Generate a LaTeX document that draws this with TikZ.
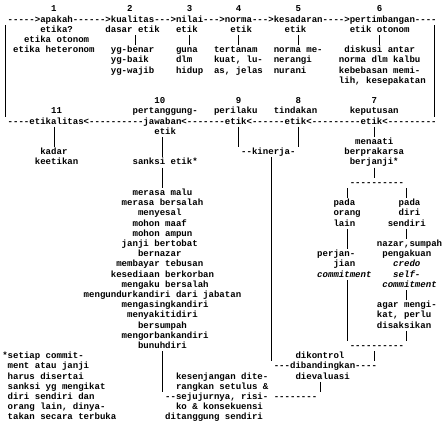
\documentclass[tikz,border=0pt]{standalone}
\usepackage{fontspec}
\setmonofont{Liberation Mono}
\newcommand{\cw}{5.43}
\tikzset{
  txt/.style={anchor=base west, inner sep=0pt, outer sep=0pt,
    font=\ttfamily\bfseries\fontsize{9.05}{10.2}\selectfont},
  bar/.style={line width=0.7pt, line cap=butt},
}
% \T{row}{col}{text}
\newcommand{\T}[3]{\node[txt] (t#1c#2) at ({2.28+\cw*#2},{-(11.8+10.2*#1)}) {#3};}
\newcommand{\TI}[3]{\node[txt] (t#1c#2) at ({2.28+\cw*#2},{-(11.8+10.2*#1)}) {\itshape #3};}
% \V{col}{from row}{to row}
\newcommand{\V}[3]{\draw[bar] ({5+\cw*#1},{-(9.5+10.2*#2-5.1)}) -- ({5+\cw*#1},{-(9.5+10.2*#3+5.1)});}
\begin{document}
\begin{tikzpicture}[x=1pt,y=1pt]
\useasboundingbox (0,0) rectangle (442,-429);
\fill[white] (0,0) rectangle (442,-429);
% row 0
\T{0}{9}{1}\T{0}{23}{2}\T{0}{34}{3}\T{0}{43}{4}\T{0}{54}{5}\T{0}{69}{6}
\T{1}{1}{----->apakah------>kualitas--->nilai--->norma--->kesadaran---->pertimbangan----}
\T{2}{7}{etika?}\T{2}{19}{dasar etik}\T{2}{32}{etik}\T{2}{42}{etik}\T{2}{52}{etik}\T{2}{64}{etik otonom}
\T{3}{4}{etika otonom}
\T{4}{2}{etika heteronom}\T{4}{20}{yg-benar}\T{4}{32}{guna}\T{4}{39}{tertanam}\T{4}{50}{norma me-}\T{4}{63}{diskusi antar}
\T{5}{20}{yg-baik}\T{5}{32}{dlm}\T{5}{39}{kuat, lu-}\T{5}{50}{nerangi}\T{5}{62}{norma dlm kalbu}
\T{6}{20}{yg-wajib}\T{6}{32}{hidup}\T{6}{39}{as, jelas}\T{6}{50}{nurani}\T{6}{62}{kebebasan memi-}
\T{7}{62}{lih, kesepakatan}
\T{9}{28}{10}\T{9}{43}{9}\T{9}{54}{8}\T{9}{68}{7}
\T{10}{9}{11}\T{10}{24}{pertanggung-}\T{10}{39}{perilaku}\T{10}{50}{tindakan}\T{10}{64}{keputusan}
\T{11}{1}{----etikalitas<----------jawaban<-------etik<------etik<---------etik<---------}
\T{12}{28}{etik}
\T{13}{65}{menaati}
\T{14}{7}{kadar}\T{14}{44}{--kinerja-}\T{14}{63}{berprakarsa}
\T{15}{6}{keetikan}\T{15}{24}{sanksi etik*}\T{15}{64}{berjanji*}
\T{17}{64}{----------}
\T{18}{24}{merasa malu}
\T{19}{22}{merasa bersalah}\T{19}{61}{pada}\T{19}{73}{pada}
\T{20}{25}{menyesal}\T{20}{61}{orang}\T{20}{73}{diri}
\T{21}{24}{mohon maaf}\T{21}{61}{lain}\T{21}{71}{sendiri}
\T{22}{24}{mohon ampun}
\T{23}{22}{janji bertobat}\T{23}{69}{nazar,sumpah}
\T{24}{25}{bernazar}\T{24}{58}{perjan-}\T{24}{70}{pengakuan}
\T{25}{21}{membayar tebusan}\T{25}{61}{jian}\TI{25}{72}{credo}
\T{26}{20}{kesediaan berkorban}\TI{26}{58}{commitment}\TI{26}{72}{self-}
\T{27}{22}{mengaku bersalah}\TI{27}{70}{commitment}
\T{28}{15}{mengundurkandiri dari jabatan}
\T{29}{22}{mengasingkandiri}\T{29}{69}{agar mengi-}
\T{30}{23}{menyakitidiri}\T{30}{69}{kat, perlu}
\T{31}{25}{bersumpah}\T{31}{69}{disaksikan}
\T{32}{22}{mengorbankandiri}
\T{33}{25}{bunuhdiri}\T{33}{64}{----------}
\T{34}{0}{*setiap commit-}\T{34}{54}{dikontrol}
\T{35}{1}{ment atau janji}\T{35}{50}{---dibandingkan----}
\T{36}{1}{harus disertai}\T{36}{32}{kesenjangan dite-}\T{36}{54}{dievaluasi}
\T{37}{1}{sanksi yg mengikat}\T{37}{32}{rangkan setulus \&}
\T{38}{1}{diri sendiri dan}\T{38}{30}{--sejujurnya, risi-}\T{38}{50}{--------}
\T{39}{1}{orang lain, dinya-}\T{39}{32}{ko \& konsekuensi}
\T{40}{1}{takan secara terbuka}\T{40}{30}{ditanggung sendiri}
% vertical connectors
\V{0}{2}{10}\V{79}{2}{10}
\V{24}{3}{3}\V{34}{3}{3}\V{43}{3}{3}\V{54}{3}{3}\V{69}{3}{3}
\V{9}{12}{13}
\V{29}{13}{14}\V{29}{16}{17}\V{29}{34}{37}
\V{43}{12}{13}\V{54}{12}{13}
\V{68}{12}{12}\V{68}{16}{16}\V{68}{34}{34}
\V{49}{15}{34}
\V{63}{18}{18}\V{63}{22}{23}\V{63}{27}{32}
\V{74}{18}{18}\V{74}{22}{22}\V{74}{28}{28}\V{74}{32}{32}
\V{58}{37}{37}
\end{tikzpicture}
\end{document}
